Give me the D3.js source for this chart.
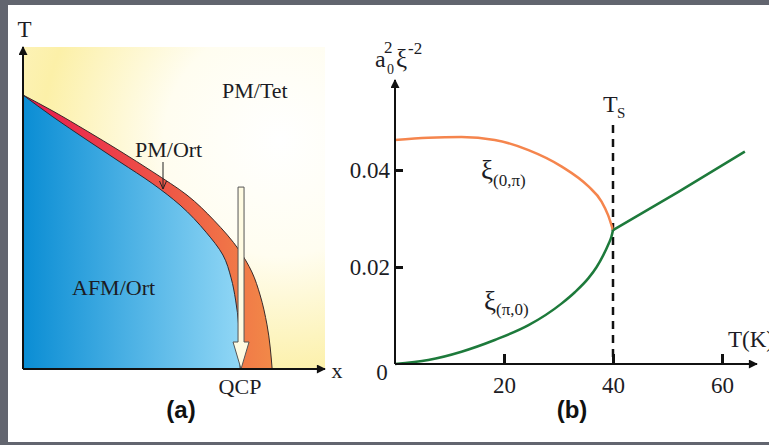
<!DOCTYPE html>
<html><head><meta charset="utf-8">
<script src="https://cdn.jsdelivr.net/npm/d3@7"></script>
<style>html,body{margin:0;padding:0;background:#62656f;} svg{display:block;}</style>
</head><body>
<svg id="c" width="769" height="445"></svg>
<script>
// ---------- Panel (a): phase diagram (x in [0,1], T in [0,1]) ----------
const afmBoundaryX = [0, 0.099, 0.212, 0.321, 0.430, 0.520, 0.606, 0.662, 0.689, 0.704, 0.714, 0.719];
const afmBoundaryT = [0.851, 0.783, 0.711, 0.643, 0.575, 0.509, 0.425, 0.354, 0.283, 0.214, 0.137, 0];
const structBoundaryX = [0, 0.099, 0.212, 0.321, 0.430, 0.543, 0.632, 0.715, 0.758, 0.785, 0.808, 0.825];
const structBoundaryT = [0.851, 0.801, 0.739, 0.677, 0.612, 0.540, 0.462, 0.370, 0.301, 0.230, 0.137, 0];
const qcpX = 0.722, qcpArrowTop = 0.565;
const phaseLabels = ["PM/Tet", "PM/Ort", "AFM/Ort"];

// ---------- Panel (b): correlation lengths ----------
const orangeT = [0, 6.1, 12.2, 18.3, 24.5, 30.6, 35.5, 37.9, 39.1, 40];
const orangeV = [0.0462, 0.04667, 0.0468, 0.0462, 0.0441, 0.0407, 0.0366, 0.0335, 0.0307, 0.0276];
const greenLowT = [0, 6.1, 12.2, 18.3, 24.5, 30.6, 33, 35.5, 37, 38.2, 39.2, 39.7, 40];
const greenLowV = [0, 0.00082, 0.00254, 0.00495, 0.0080, 0.0125, 0.0148, 0.0177, 0.0200, 0.0224, 0.0248, 0.0262, 0.0276];
const greenHighT = [40, 52, 64.2];
const greenHighV = [0.0276, 0.0355, 0.0438];
const xTicks = [20, 40, 60];
const yTicks = [0.02, 0.04];
const yTickLabels = ["0.02", "0.04"];
const Ts = 40;

const svg = d3.select("#c");
const serif = "'Liberation Serif','DejaVu Serif',serif";
const ink = "#1c1c24";

svg.append("rect").attr("x",8).attr("y",5).attr("width",761).attr("height",437).attr("fill","#ffffff");

const defs = svg.append("defs");
const yel = defs.append("radialGradient").attr("id","yel").attr("gradientUnits","userSpaceOnUse")
  .attr("cx",280).attr("cy",140).attr("r",290);
yel.append("stop").attr("offset","0").attr("stop-color","#ffffff");
yel.append("stop").attr("offset","0.4").attr("stop-color","#fffdf0");
yel.append("stop").attr("offset","0.82").attr("stop-color","#fcf0a8");
yel.append("stop").attr("offset","1").attr("stop-color","#fdf3bc");
const blu = defs.append("linearGradient").attr("id","blu").attr("gradientUnits","userSpaceOnUse")
  .attr("x1",23).attr("x2",245).attr("y1",0).attr("y2",0);
blu.append("stop").attr("offset","0").attr("stop-color","#0a8dd4");
blu.append("stop").attr("offset","1").attr("stop-color","#93d8f6");
const red = defs.append("linearGradient").attr("id","red").attr("gradientUnits","userSpaceOnUse")
  .attr("x1",23).attr("x2",275).attr("y1",0).attr("y2",0);
red.append("stop").attr("offset","0").attr("stop-color","#e8184e");
red.append("stop").attr("offset","0.6").attr("stop-color","#ee5a46");
red.append("stop").attr("offset","1").attr("stop-color","#f28a48");
const arrowM = defs.append("marker").attr("id","ah").attr("viewBox","0 0 10 10").attr("refX",9).attr("refY",5)
  .attr("markerWidth",11).attr("markerHeight",9).attr("markerUnits","userSpaceOnUse").attr("orient","auto");
arrowM.append("path").attr("d","M0,0 L10,5 L0,10 Z").attr("fill","#111");

// ---- panel (a)
const xA = d3.scaleLinear().domain([0,1]).range([23,325]);
const yA = d3.scaleLinear().domain([0,1]).range([369,47]);
const gA = svg.append("g");
gA.append("rect").attr("x",xA(0)).attr("y",yA(1)).attr("width",xA(1)-xA(0)).attr("height",yA(0)-yA(1)).attr("fill","url(#yel)");

const afm = afmBoundaryX.map((x,i)=>[x, afmBoundaryT[i]]);
const str = structBoundaryX.map((x,i)=>[x, structBoundaryT[i]]);
const lineA = d3.line().x(d=>xA(d[0])).y(d=>yA(d[1])).curve(d3.curveMonotoneY);
gA.append("path").attr("d", lineA(str) + "L" + xA(0) + "," + yA(0) + "Z").attr("fill","url(#red)");
gA.append("path").attr("d", lineA(afm) + "L" + xA(0) + "," + yA(0) + "Z").attr("fill","url(#blu)");
gA.append("path").attr("d", lineA(str)).attr("fill","none").attr("stroke","#3a2a2a").attr("stroke-width",1);
gA.append("path").attr("d", lineA(afm)).attr("fill","none").attr("stroke","#2a2a33").attr("stroke-width",1);

const ax = xA(qcpX), at = yA(qcpArrowTop), ab = yA(0);
const hw = 3, hh = 8, hl = 27;
gA.append("path").attr("d",
  `M${ax-hw},${at} L${ax+hw},${at} L${ax+hw},${ab-hl} L${ax+hh},${ab-hl} L${ax},${ab} L${ax-hh},${ab-hl} L${ax-hw},${ab-hl} Z`)
  .attr("fill","#fffbe2").attr("stroke","#555").attr("stroke-width",1);

gA.append("line").attr("x1",xA(0)).attr("y1",yA(0)).attr("x2",xA(0)).attr("y2",yA(1)).attr("stroke","#111").attr("stroke-width",2).attr("marker-end","url(#ah)");
gA.append("line").attr("x1",xA(0)).attr("y1",yA(0)).attr("x2",xA(1)).attr("y2",yA(0)).attr("stroke","#111").attr("stroke-width",2).attr("marker-end","url(#ah)");

gA.append("path").attr("d","M163,162 L163,189 M159.5,181 L163,189 L166.5,181").attr("fill","none").attr("stroke","#222").attr("stroke-width",1);

const tA = (s,x,y,anchor,size)=>gA.append("text").attr("x",x).attr("y",y).attr("text-anchor",anchor||"start")
  .attr("font-family",serif).attr("font-size",size||22).attr("fill",ink).text(s);
tA("T",24.5,37,"middle",23);
tA("x",337,378,"middle",22);
tA(phaseLabels[0],222,98);
tA(phaseLabels[1],135,157);
tA(phaseLabels[2],72,295);
tA("QCP",240,394,"middle",22);
svg.append("text").attr("x",181).attr("y",418).attr("text-anchor","middle").attr("font-family","'Liberation Sans',Arial,sans-serif")
  .attr("font-weight","bold").attr("font-size",24).attr("fill","#111").text("(a)");

// ---- panel (b)
const xB = d3.scaleLinear().domain([0,60]).range([395,722]);
const yB = d3.scaleLinear().domain([0,0.04]).range([364,170]);
const gB = svg.append("g");

gB.append("line").attr("x1",xB(Ts)).attr("x2",xB(Ts)).attr("y1",125).attr("y2",yB(0))
  .attr("stroke","#111").attr("stroke-width",2.5).attr("stroke-dasharray","8,6");

const lineB = d3.line().x(d=>xB(d[0])).y(d=>yB(d[1])).curve(d3.curveMonotoneX);
gB.append("path").attr("d", lineB(orangeT.map((t,i)=>[t,orangeV[i]]))).attr("fill","none").attr("stroke","#f5854d").attr("stroke-width",2.5);
gB.append("path").attr("d", lineB(greenLowT.map((t,i)=>[t,greenLowV[i]]))).attr("fill","none").attr("stroke","#1d7a3b").attr("stroke-width",2.5);
gB.append("path").attr("d", lineB(greenHighT.map((t,i)=>[t,greenHighV[i]]))).attr("fill","none").attr("stroke","#1d7a3b").attr("stroke-width",2.5);

const xAxis = d3.axisBottom(xB).tickValues(xTicks).tickSize(-10).tickPadding(13).tickFormat(d3.format("d"));
const gx = gB.append("g").attr("transform",`translate(0,${yB(0)})`).call(xAxis);
gx.select(".domain").remove();
gx.selectAll(".tick line").attr("stroke","#111").attr("stroke-width",3);
gx.selectAll(".tick text").attr("font-family",serif).attr("font-size",23).attr("fill",ink);

const yAxis = d3.axisLeft(yB).tickValues(yTicks).tickSize(-8).tickPadding(5).tickFormat((d,i)=>yTickLabels[i]);
const gy = gB.append("g").attr("transform",`translate(${xB(0)},0)`).call(yAxis);
gy.select(".domain").remove();
gy.selectAll(".tick line").attr("stroke","#111").attr("stroke-width",3);
gy.selectAll(".tick text").attr("font-family",serif).attr("font-size",23).attr("fill",ink);

gB.append("line").attr("x1",xB(0)).attr("y1",yB(0)).attr("x2",xB(0)).attr("y2",80).attr("stroke","#111").attr("stroke-width",2).attr("marker-end","url(#ah)");
gB.append("line").attr("x1",xB(0)).attr("y1",yB(0)).attr("x2",757).attr("y2",yB(0)).attr("stroke","#111").attr("stroke-width",2).attr("marker-end","url(#ah)");

const tB = (s,x,y,anchor,size)=>gB.append("text").attr("x",x).attr("y",y).attr("text-anchor",anchor||"start")
  .attr("font-family",serif).attr("font-size",size||23).attr("fill",ink).text(s);
tB("0", xB(0)-13, 380, "middle", 23);
tB("T(K)", 728, 347, "start", 23);
tB("a", 375, 67, "start", 24);
tB("0", 387, 74, "start", 14);
tB("2", 384, 53, "start", 17);
tB("ξ", 396, 67, "start", 25);
tB("-2", 408, 54, "start", 17);
tB("T", 603, 112, "start", 24);
tB("S", 617, 118, "start", 15);
tB("ξ", 481, 179, "start", 27);
tB("(0,π)", 493, 186, "start", 17);
tB("ξ", 484, 310, "start", 27);
tB("(π,0)", 496, 315, "start", 17);

svg.append("text").attr("x",572).attr("y",418).attr("text-anchor","middle").attr("font-family","'Liberation Sans',Arial,sans-serif")
  .attr("font-weight","bold").attr("font-size",24).attr("fill","#111").text("(b)");
</script>
</body></html>
